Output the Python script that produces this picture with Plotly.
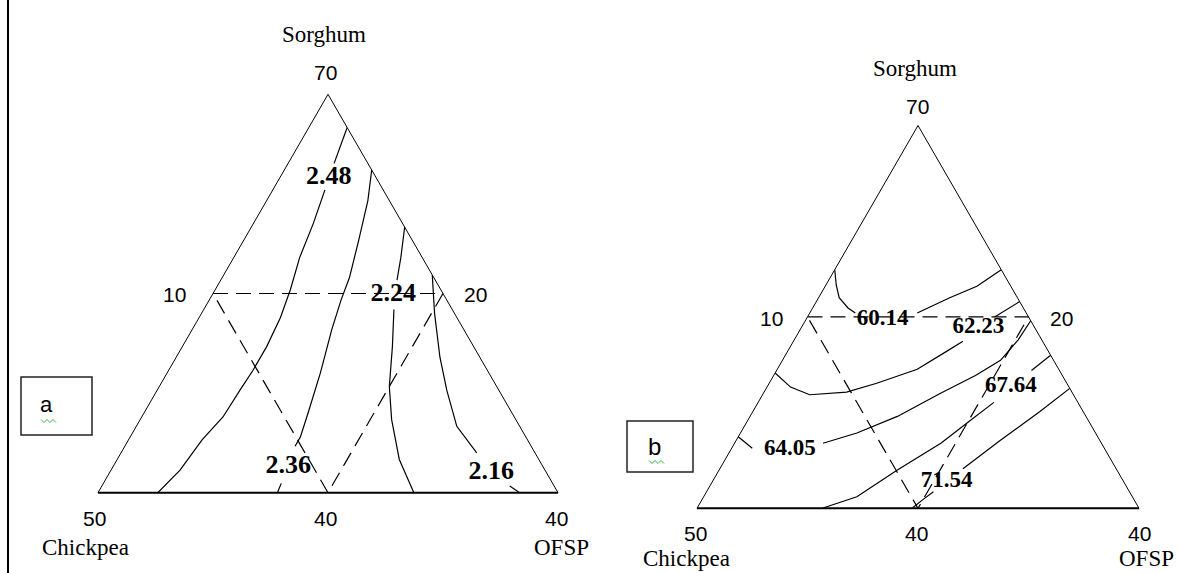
import plotly.graph_objects as go

W, H = 1180, 573

# Mixture design: Sorghum 40-70 %, Chickpea 20-50 %, OFSP 10-40 %, total 100 %
SORGHUM_MIN, CHICKPEA_MIN, OFSP_MIN = 40, 20, 10
TOTAL = 100

# Constraint region (Sorghum, Chickpea, OFSP), drawn dashed
region = [(55, 35, 10), (55, 20, 25), (40, 35, 25), (55, 35, 10)]

# (a) contour lines as (Sorghum, Chickpea, OFSP); None breaks the line under its label
a_248 = [(67.5, 20.0, 12.5), (64.8, 22.2, 13.0), None, (62.8, 23.8, 13.4),
         (60.3, 25.8, 13.9), (57.7, 28.0, 14.3), (55.3, 29.8, 14.9), (53.2, 31.5, 15.3),
         (51.0, 33.5, 15.5), (49.2, 35.3, 15.5), (47.7, 36.9, 15.4), (45.7, 39.0, 15.3),
         (44.0, 41.2, 14.8), (41.7, 43.8, 14.5), (40.0, 46.1, 13.9)]
a_236 = [(64.3, 20.0, 15.7), (62.0, 21.4, 16.6), (59.0, 23.5, 17.5), (56.2, 25.5, 18.3),
         (54.5, 26.9, 18.6), (52.3, 28.6, 19.1), (49.0, 31.0, 20.0), (46.0, 33.3, 20.7),
         (44.2, 34.7, 21.1), (43.5, 35.4, 21.1), None, (40.7, 37.7, 21.6), (40.0, 38.3, 21.7)]
a_224 = [(60.0, 20.0, 20.0), (57.7, 21.4, 20.9), (56.0, 22.5, 21.5), None,
         (53.8, 23.8, 22.4), (51.0, 25.3, 23.7), (48.0, 27.0, 25.0), (45.5, 28.1, 26.4),
         (42.5, 29.1, 28.4), (40.0, 29.4, 30.6)]
a_216 = [(56.4, 20.0, 23.6), (53.5, 21.3, 25.2), (50.2, 22.6, 27.2), (47.7, 23.4, 28.9),
         (45.0, 24.1, 30.9), (43.0, 23.8, 33.2), None, (40.5, 22.9, 36.6), (40.0, 22.5, 37.5)]
a_levels = ["2.48", "2.36", "2.24", "2.16"]
a_label_at = [(63.7, 23.1, 13.2), (42.0, 36.6, 21.4), (54.9, 23.3, 21.8), (41.5, 23.6, 34.9)]

# (b) contour lines
b_6014 = [(58.7, 31.3, 10.0), (57.5, 31.8, 10.7), (56.5, 32.1, 11.4), (55.7, 31.9, 12.4),
          (55.3, 31.6, 13.1), None, (55.3, 27.4, 17.3), (56.5, 24.6, 18.9),
          (57.4, 22.3, 20.3), (58.7, 20.0, 21.3)]
b_6223 = [(50.6, 39.4, 10.0), (49.5, 38.9, 11.6), (48.9, 37.9, 13.2), (49.1, 35.3, 15.6),
          (49.8, 32.9, 17.3), (50.9, 29.6, 19.5), (52.2, 27.1, 20.7), (53.1, 25.4, 21.5),
          None, (55.0, 22.3, 22.7), (56.2, 20.0, 23.8)]
b_6405 = [(45.6, 44.4, 10.0), (44.7, 43.9, 11.4), None, (45.1, 38.9, 16.0),
          (45.9, 36.2, 17.9), (47.2, 32.8, 20.0), (49.0, 29.0, 22.0), (50.4, 25.9, 23.7),
          (51.6, 23.6, 24.8), (53.2, 21.6, 25.2), (54.7, 20.0, 25.3)]
b_6764 = [(40.0, 41.5, 18.5), (40.9, 38.7, 20.4), (43.0, 34.9, 22.1), (45.1, 30.9, 24.0),
          (46.7, 28.3, 25.0), (48.3, 25.7, 26.0), None, (50.8, 21.9, 27.3), (52.0, 20.0, 28.0)]
b_7154 = [(40.0, 35.4, 24.6), (40.7, 34.3, 25.0), (41.3, 33.3, 25.4), None,
          (43.1, 30.4, 26.5), (45.3, 26.8, 27.9), (47.6, 22.9, 29.5), (49.4, 20.0, 30.6)]
b_levels = ["60.14", "62.23", "64.05", "67.64", "71.54"]
b_label_at = [(54.8, 30.0, 15.2), (54.2, 23.8, 22.0), (44.6, 41.4, 14.0),
              (49.6, 23.9, 26.5), (42.1, 32.0, 25.9)]

# Tick values shown at corners and edge midpoints
corner_ticks = ["70", "50", "40"]
edge_ticks = ["10", "20", "40"]
component_names = ["Sorghum", "Chickpea", "OFSP"]

SERIF = "Liberation Serif"
SANS = "Liberation Sans"
NAME_SIZE = 23
TICK_SIZE = 21


def columns(points):
    s = [p[0] if p else None for p in points]
    c = [p[1] if p else None for p in points]
    o = [p[2] if p else None for p in points]
    return s, c, o


def px(x, y):
    return x / W, 1 - y / H


fig = go.Figure()


def add_panel(subplot, lines, levels, label_at, label_size):
    s, c, o = columns(region)
    fig.add_trace(go.Scatterternary(
        a=s, b=c, c=o, mode="lines", subplot=subplot,
        line=dict(color="black", width=1.2, dash="15px,8px"), hoverinfo="skip"))
    for pts in lines:
        s, c, o = columns(pts)
        fig.add_trace(go.Scatterternary(
            a=s, b=c, c=o, mode="lines", subplot=subplot, connectgaps=False,
            line=dict(color="black", width=1.2), hoverinfo="skip"))
    s, c, o = columns(label_at)
    fig.add_trace(go.Scatterternary(
        a=s, b=c, c=o, mode="text", subplot=subplot, text=levels,
        textposition="middle center",
        textfont=dict(family=SERIF, size=label_size, color="black", weight="bold"),
        hoverinfo="skip"))


add_panel("ternary", [a_248, a_236, a_224, a_216], a_levels, a_label_at, 26)
add_panel("ternary2", [b_6014, b_6223, b_6405, b_6764, b_7154], b_levels, b_label_at, 23)


def ternary_axes(x0, x1, y_top, y_bot):
    ax = dict(showgrid=False, showticklabels=False, ticks="", showline=True,
              linecolor="black", linewidth=1, title=dict(text=""))
    return dict(
        domain=dict(x=[x0 / W, x1 / W], y=[1 - y_bot / H, 1 - y_top / H]),
        sum=TOTAL, bgcolor="white",
        aaxis=dict(ax, min=SORGHUM_MIN),
        baxis=dict(ax, min=CHICKPEA_MIN, linewidth=2),
        caxis=dict(ax, min=OFSP_MIN),
    )


annotations = []


def label(text, x, y, family, size):
    xp, yp = px(x, y)
    annotations.append(dict(text=text, x=xp, y=yp, xref="paper", yref="paper",
                            xanchor="center", yanchor="middle", showarrow=False,
                            font=dict(family=family, size=size, color="black")))


def panel_text(top, v70, v10, v20, v50, v40, v40r, chick, ofsp):
    label(component_names[0], *top, SERIF, NAME_SIZE)
    label(corner_ticks[0], *v70, SANS, TICK_SIZE)
    label(edge_ticks[0], *v10, SANS, TICK_SIZE)
    label(edge_ticks[1], *v20, SANS, TICK_SIZE)
    label(corner_ticks[1], *v50, SANS, TICK_SIZE)
    label(edge_ticks[2], *v40, SANS, TICK_SIZE)
    label(corner_ticks[2], *v40r, SANS, TICK_SIZE)
    label(component_names[1], *chick, SERIF, NAME_SIZE)
    label(component_names[2], *ofsp, SERIF, NAME_SIZE)


panel_text((324, 35), (325, 72), (174, 294), (475, 294), (95, 518), (326, 518),
           (556, 518), (85, 547), (561, 547))
panel_text((915, 69), (918, 106), (771, 318), (1061, 318), (695, 533), (916, 533),
           (1139, 533), (686, 558), (1146, 558))

label("a", 47, 404, SANS, 22)
label("b", 654, 446, SANS, 24)

shapes = []
x0, y0 = px(8, 0)
x1, y1 = px(8, H)
shapes.append(dict(type="line", xref="paper", yref="paper", x0=x0, y0=y0, x1=x1, y1=y1,
                   line=dict(color="black", width=2)))
for (bx0, by0, bx1, by1) in [(21, 377, 92, 435), (627, 421, 693, 472)]:
    ax0, ay0 = px(bx0, by0)
    ax1, ay1 = px(bx1, by1)
    shapes.append(dict(type="rect", xref="paper", yref="paper", x0=ax0, y0=ay0, x1=ax1, y1=ay1,
                       line=dict(color="#222222", width=1.5), fillcolor="rgba(0,0,0,0)"))


def squiggle(xs, xe, y):
    pts = []
    x = xs
    k = 0
    while x <= xe:
        xp, yp = px(x, y + (1.5 if k % 2 else -1.5))
        pts.append(f"{xp:.5f},{yp:.5f}")
        x += 3
        k += 1
    return "M " + " L ".join(pts)


for xs, xe, y in [(41, 56, 421), (649, 665, 462)]:
    shapes.append(dict(type="path", xref="paper", yref="paper", path=squiggle(xs, xe, y),
                       line=dict(color="#3cb043", width=1)))

fig.update_layout(
    width=W, height=H, autosize=False,
    margin=dict(l=0, r=0, t=0, b=0),
    paper_bgcolor="white", plot_bgcolor="white",
    showlegend=False,
    ternary=ternary_axes(98, 558, 94, 493),
    ternary2=ternary_axes(697, 1139, 125.5, 508.3),
    annotations=annotations,
    shapes=shapes,
)

fig.write_html("out.html")
